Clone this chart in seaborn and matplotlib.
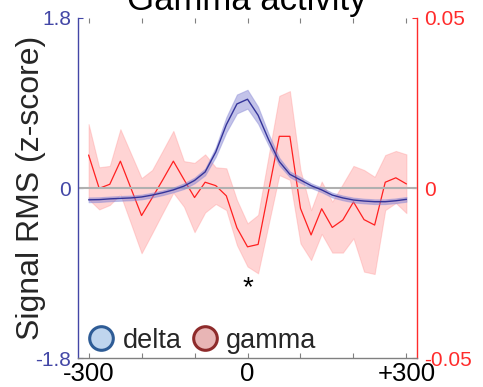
import numpy as np
import pandas as pd
import matplotlib
matplotlib.use("Agg")
import matplotlib.pyplot as plt
from matplotlib.lines import Line2D
import seaborn as sns

# Time relative to event (ms)
time_ms = list(range(-300, 301, 20))

# Delta RMS (z-score), left axis
delta_mean = [-0.125, -0.123, -0.115, -0.110, -0.105, -0.095, -0.075, -0.050, -0.020, 0.020,
              0.080, 0.170, 0.380, 0.670, 0.890, 0.940, 0.770, 0.510, 0.280, 0.145,
              0.085, 0.025, -0.020, -0.075, -0.105, -0.127, -0.138, -0.145, -0.145, -0.135,
              -0.120]
delta_sem = [0.025, 0.025, 0.025, 0.025, 0.025, 0.025, 0.025, 0.025, 0.025, 0.03,
             0.03, 0.035, 0.05, 0.08, 0.10, 0.10, 0.09, 0.06, 0.04, 0.03,
             0.03, 0.025, 0.025, 0.025, 0.025, 0.025, 0.025, 0.025, 0.025, 0.025,
             0.025]

# Gamma RMS, right axis
gamma_mean = [0.0097, -0.0001, 0.0011, 0.0079, -0.0001, -0.0081, -0.0029, 0.0024, 0.0079, 0.0025,
              -0.0028, 0.0017, 0.0007, -0.0023, -0.0117, -0.0173, -0.0166, -0.0007, 0.0152, 0.0152,
              -0.0060, -0.0138, -0.0061, -0.0116, -0.0094, -0.0041, -0.0093, -0.0109, 0.0017, 0.0030,
              0.0012]
gamma_upper = [0.0188, 0.0061, 0.0065, 0.0173, 0.0101, 0.0029, 0.0053, 0.0110, 0.0168, 0.0079,
               0.0074, 0.0099, 0.0061, 0.0058, -0.0035, -0.0104, -0.0079, 0.0096, 0.0271, 0.0285,
               0.0053, -0.0065, 0.0019, -0.0040, 0.0012, 0.0065, 0.0053, 0.0033, 0.0097, 0.0109,
               0.0099]
gamma_lower = [-0.0033, -0.0063, -0.0050, -0.0019, -0.0105, -0.0192, -0.0133, -0.0073, -0.0014, -0.0055,
               -0.0130, -0.0072, -0.0047, -0.0065, -0.0168, -0.0231, -0.0251, -0.0106, 0.0038, 0.0024,
               -0.0163, -0.0212, -0.0135, -0.0190, -0.0190, -0.0148, -0.0246, -0.0253, -0.0065, -0.0044,
               -0.0074]

x_ticks = [-300, -200, -100, 0, 100, 200, 300]
x_ticklabels = ["-300", "", "", "0", "", "", "+300"]
left_ticks = [-1.8, 0, 1.8]
left_ticklabels = ["-1.8", "0", "1.8"]
right_ticks = [-0.05, 0, 0.05]
right_ticklabels = ["-0.05", "0", "0.05"]

df = pd.DataFrame({"time": time_ms, "delta": delta_mean, "gamma": gamma_mean})

sns.set_theme(style="white")
plt.rcParams["font.family"] = ["Liberation Sans", "DejaVu Sans"]

BLUE_AX = "#4347a6"
RED_AX = "#ff2b2b"

fig = plt.figure(figsize=(4.83, 3.87), dpi=100)
ax = fig.add_axes([0.1615, 0.0749, 0.7019, 0.8786])
ax2 = ax.twinx()

# gamma on the right axis (drawn underneath)
ax2.fill_between(time_ms, gamma_lower, gamma_upper, facecolor="#ff6666", alpha=0.28,
                 edgecolor="#ff8080", linewidth=0.8)
sns.lineplot(data=df, x="time", y="gamma", ax=ax2, color="#ff2020", linewidth=0.9)
ax2.set_ylim(-0.05, 0.05)
ax2.set_yticks(right_ticks, right_ticklabels)
ax2.set_ylabel("")

# delta on the left axis (on top)
ax.set_zorder(ax2.get_zorder() + 1)
ax.patch.set_visible(False)
ax.axhline(0, color="#b0b0b0", linewidth=1.5, zorder=1)
d_lo = [m - s for m, s in zip(delta_mean, delta_sem)]
d_hi = [m + s for m, s in zip(delta_mean, delta_sem)]
ax.fill_between(time_ms, d_lo, d_hi, facecolor="#7b7bd0", alpha=0.45,
                edgecolor="#8a8ad6", linewidth=0.8, zorder=2)
sns.lineplot(data=df, x="time", y="delta", ax=ax, color="#34349a", linewidth=1.0, zorder=3)
ax.set_xlim(-320, 320)
ax.set_ylim(-1.8, 1.8)
ax.set_xticks(x_ticks, x_ticklabels)
ax.set_yticks(left_ticks, left_ticklabels)
ax.set_xlabel("")
ax.set_ylabel("Signal RMS (z-score)", fontsize=23, labelpad=-8)

ax.text(0, -1.06, "*", ha="center", va="center", fontsize=20, color="black")

# spines and ticks
for a in (ax, ax2):
    a.spines["top"].set_visible(False)
    a.grid(False)
ax.spines["right"].set_visible(False)
ax2.spines["left"].set_visible(False)
ax2.spines["bottom"].set_visible(False)
ax.spines["left"].set_color(BLUE_AX)
ax.spines["bottom"].set_color("#808080")
ax2.spines["right"].set_color(RED_AX)
for s in ("left", "bottom"):
    ax.spines[s].set_linewidth(1.0)
ax2.spines["right"].set_linewidth(1.0)

ax.tick_params(axis="x", direction="in", top=True, bottom=True, length=3.5,
               width=0.8, color="#808080", labelsize=18.5, pad=3, labelcolor="black")
ax.tick_params(axis="y", direction="in", left=True, length=3.5, width=0.8,
               color=BLUE_AX, labelcolor=BLUE_AX, labelsize=15, pad=5)
ax2.tick_params(axis="y", direction="in", right=True, length=3.5, width=0.8,
                color=RED_AX, labelcolor=RED_AX, labelsize=15, pad=5)

handles = [
    Line2D([], [], linestyle="none", marker="o", markersize=17, markerfacecolor="#bfd5ee",
           markeredgecolor="#2e5c96", markeredgewidth=2.2),
    Line2D([], [], linestyle="none", marker="o", markersize=17, markerfacecolor="#e8b5b5",
           markeredgecolor="#8e2b2b", markeredgewidth=2.2),
]
ax.legend(handles, ["delta", "gamma"], ncol=2, loc="lower left", bbox_to_anchor=(-0.02, -0.035),
          frameon=False, fontsize=19.5, handlelength=1.0, handletextpad=0.3,
          columnspacing=0.35, borderaxespad=0.2)

fig.text(247 / 483, 1 - 10 / 387, "Gamma activity", ha="center", va="baseline",
         fontsize=25, color="black")

fig.savefig("out.png", dpi=100)
